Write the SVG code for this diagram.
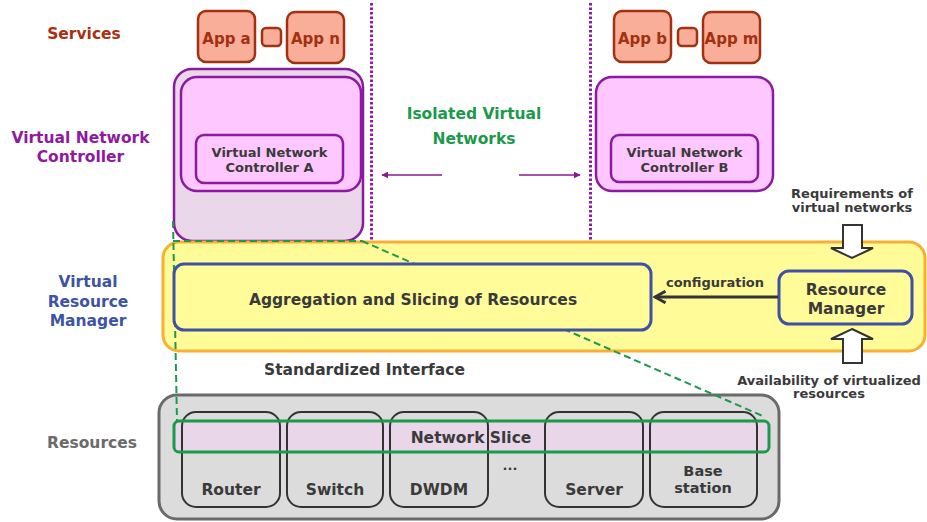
<svg xmlns="http://www.w3.org/2000/svg" width="927" height="522" viewBox="0 0 927 522">
<defs>
<style>
text{font-family:"DejaVu Sans","Verdana",sans-serif;font-weight:bold;text-anchor:middle}
.lbl{font-size:15.5px}
.sm{font-size:13px;fill:#3a3a3a}
.dark{fill:#3a3a3a}
.app{fill:#F8AE99;stroke:#A33010;stroke-width:2.5}
.appt{fill:#A33010;font-size:15px}
.vnc{fill:#FFC7FF;stroke:#8A1AA0;stroke-width:2.5}
.blue{fill:#FFFC99;stroke:#3F51A5;stroke-width:3}
.dev{fill:none;stroke:#333;stroke-width:2}
.iso{stroke:#8E1AAE;stroke-width:3;stroke-dasharray:2.5 2;fill:none}
.gd{stroke:#1A9A4A;stroke-width:2;stroke-dasharray:7 4;fill:none}
.hollow{fill:#fff;stroke:#333;stroke-width:2}
.bs{font-size:14.5px}
</style>
<marker id="pa" viewBox="0 0 10 10" refX="9" refY="5" markerWidth="7" markerHeight="7" orient="auto" markerUnits="userSpaceOnUse">
<path d="M0,0 L10,5 L0,10 z" fill="#8A1A8A"/>
</marker>
<marker id="da" viewBox="0 0 12 12" refX="10" refY="6" markerWidth="14" markerHeight="14" orient="auto" markerUnits="userSpaceOnUse">
<path d="M1,1 L10,6 L1,11" fill="none" stroke="#333" stroke-width="2.5"/>
</marker>
</defs>
<rect width="927" height="522" fill="#fff"/>

<g id="layer-labels">
<text class="lbl" x="84" y="39" fill="#A93010">Services</text>
<text class="lbl" x="80.5" y="143" fill="#8E1A9E">Virtual Network</text>
<text class="lbl" x="80.5" y="161.5" fill="#8E1A9E">Controller</text>
<text class="lbl" x="88" y="286.5" fill="#3D53A4">Virtual</text>
<text class="lbl" x="88" y="306.5" fill="#3D53A4">Resource</text>
<text class="lbl" x="88" y="325.5" fill="#3D53A4">Manager</text>
<text class="lbl" x="92" y="448" fill="#6b6b6b">Resources</text>
</g>

<g id="isolation">
<line class="iso" x1="371.5" y1="3" x2="371.5" y2="240"/>
<line class="iso" x1="590.5" y1="3" x2="590.5" y2="240"/>
<text class="lbl" x="474" y="118.5" fill="#1A9A4A">Isolated Virtual</text>
<text class="lbl" x="474" y="143.5" fill="#1A9A4A">Networks</text>
</g>

<g id="apps-a">
<rect class="app" x="198" y="11" width="57" height="51" rx="8"/>
<rect class="app" x="262" y="28" width="19" height="18" rx="4"/>
<rect class="app" x="287" y="12" width="57" height="51" rx="8"/>
<text class="appt" x="226.5" y="43.5">App a</text>
<text class="appt" x="315.5" y="44">App n</text>
</g>

<g id="apps-b">
<rect class="app" x="614" y="11" width="57" height="51" rx="8"/>
<rect class="app" x="678" y="28" width="19" height="18" rx="4"/>
<rect class="app" x="703" y="12" width="57" height="51" rx="8"/>
<text class="appt" x="642.5" y="43.5">App b</text>
<text class="appt" x="731.5" y="44">App m</text>
</g>

<g id="vnc-a">
<rect x="174" y="69" width="189" height="172" rx="18" fill="#EBD7EA" stroke="#8A1AA0" stroke-width="2.5"/>
<rect class="vnc" x="181" y="77" width="180" height="114" rx="16"/>
<rect class="vnc" x="196" y="135" width="147" height="48" rx="8"/>
<text class="sm" x="269.5" y="156.5">Virtual Network</text>
<text class="sm" x="269.5" y="171.5">Controller A</text>
</g>

<g id="vnc-b">
<rect class="vnc" x="596" y="77" width="177" height="114" rx="16"/>
<rect class="vnc" x="611" y="135" width="147" height="47" rx="8"/>
<text class="sm" x="684.5" y="156.5">Virtual Network</text>
<text class="sm" x="684.5" y="171.5">Controller B</text>
</g>

<g id="vrm">
<rect x="163" y="242" width="762" height="109" rx="16" fill="#FFFB99" stroke="#F7B032" stroke-width="3"/>
</g>

<g id="resources">
<rect x="159" y="395" width="620" height="124" rx="18" fill="#DCDCDC" stroke="#6A6A6A" stroke-width="3"/>
<rect x="174" y="421" width="595" height="31" rx="5" fill="#E9D7E9"/>
</g>

<g id="slice-outline">
<path class="gd" d="M173,221 L177,421"/>
<path class="gd" d="M173,241 L362,241"/>
<path class="gd" d="M362,241 L765,417"/>
</g>

<g id="aggregation">
<rect class="blue" x="174" y="264" width="477" height="66" rx="10"/>
<text class="lbl dark" x="413" y="304.5">Aggregation and Slicing of Resources</text>
</g>

<g id="resource-manager">
<rect class="blue" x="779" y="271" width="133" height="53" rx="10"/>
<text class="lbl dark" x="846" y="294.5">Resource</text>
<text class="lbl dark" x="846" y="313.5">Manager</text>
</g>

<g id="dev-router"><rect class="dev" x="182" y="412" width="98" height="95" rx="14"/><text class="lbl dark" x="231" y="494.5">Router</text></g>
<g id="dev-switch"><rect class="dev" x="287" y="412" width="96" height="95" rx="14"/><text class="lbl dark" x="335" y="494.5">Switch</text></g>
<g id="dev-dwdm"><rect class="dev" x="390" y="412" width="98" height="95" rx="14"/><text class="lbl dark" x="439" y="494.5">DWDM</text></g>
<g id="dev-server"><rect class="dev" x="545" y="412" width="98" height="95" rx="14"/><text class="lbl dark" x="594" y="494.5">Server</text></g>
<g id="dev-base"><rect class="dev" x="650" y="412" width="107" height="95" rx="14"/><text class="bs dark" x="703" y="476">Base</text><text class="bs dark" x="703" y="493">station</text></g>
<text class="sm" x="510" y="470">...</text>

<g id="network-slice">
<rect x="174" y="421" width="595" height="31" rx="5" fill="none" stroke="#1A9A4A" stroke-width="3"/>
<text class="lbl dark" x="471" y="442.5">Network Slice</text>
</g>

<g id="connectors">
<line x1="442" y1="175" x2="382" y2="175" stroke="#8A1A8A" stroke-width="1.5" marker-end="url(#pa)"/>
<line x1="519" y1="175" x2="580" y2="175" stroke="#8A1A8A" stroke-width="1.5" marker-end="url(#pa)"/>
<line x1="778" y1="297" x2="655" y2="297" stroke="#333" stroke-width="3" marker-end="url(#da)"/>
<polygon class="hollow" points="843,225 862,225 862,248 873,248 852,258 831,248 843,248"/>
<polygon class="hollow" points="852,329 873,339 862,339 862,363 843,363 843,339 831,339"/>
</g>

<g id="annotations">
<text class="sm" x="715" y="286.5">configuration</text>
<text class="sm" x="852" y="197.5">Requirements of</text>
<text class="sm" x="852" y="211.5">virtual networks</text>
<text class="sm" x="829" y="384.5">Availability of virtualized</text>
<text class="sm" x="829" y="398">resources</text>
<text class="lbl dark" x="364.5" y="374.5">Standardized Interface</text>
</g>
</svg>
